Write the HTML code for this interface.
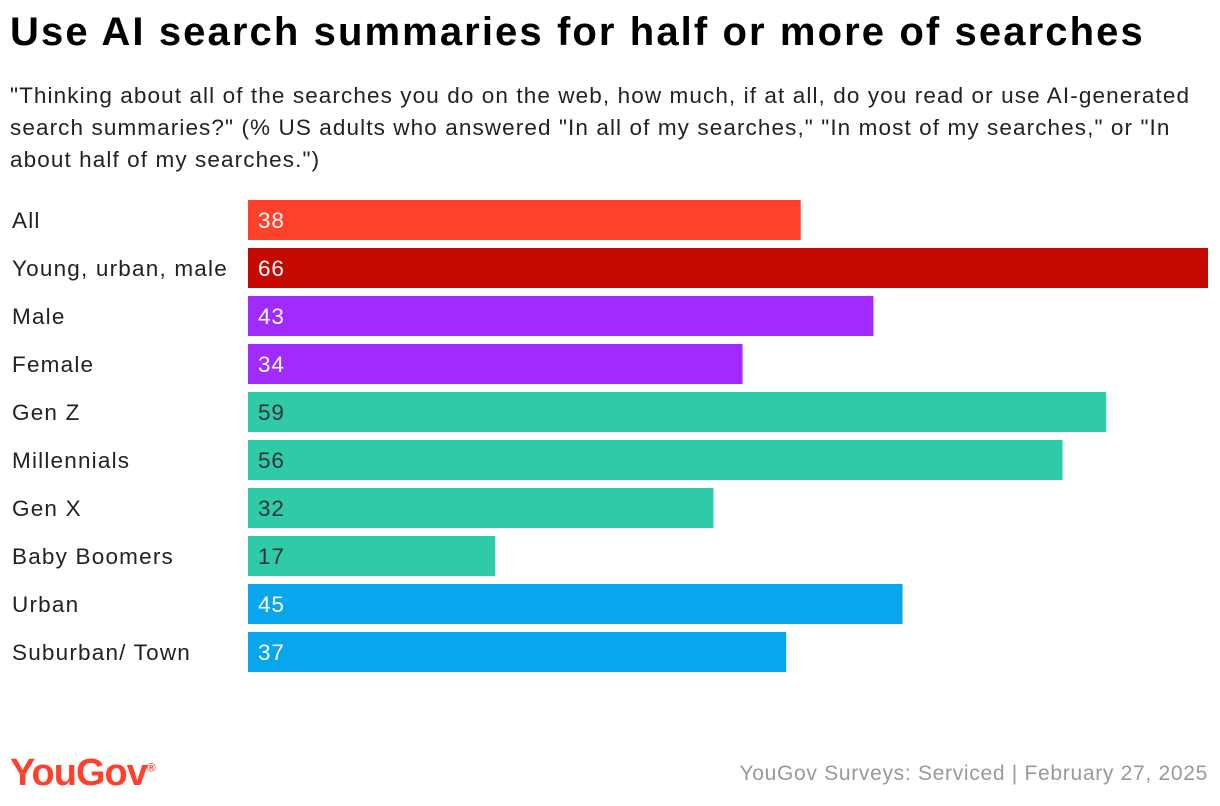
<!DOCTYPE html>
<html><head><meta charset="utf-8"><style>
body{margin:0;width:1220px;height:806px;background:#fff;font-family:"Liberation Sans",sans-serif;overflow:hidden;position:relative}
#title{position:absolute;left:10px;top:10px;font-size:40px;font-weight:bold;color:#000;letter-spacing:2.1px;white-space:nowrap}
#sub{position:absolute;left:10px;top:80px;width:1212px;font-size:22.5px;line-height:32px;color:#222;letter-spacing:1.1px}
#logo{position:absolute;left:10px;top:752px;font-size:38px;font-weight:bold;color:#ff412c;letter-spacing:-1px}
#src{position:absolute;right:12px;top:762px;font-size:21px;color:#999;letter-spacing:0.7px}
</style></head><body>
<div id="title">Use AI search summaries for half or more of searches</div>
<div id="sub">"Thinking about all of the searches you do on the web, how much, if at all, do you read or use AI-generated search summaries?" (% US adults who answered "In all of my searches," "In most of my searches," or "In about half of my searches.")</div>
<svg id="chart" width="1220" height="806" style="position:absolute;left:0;top:0"></svg>
<div id="logo">YouGov<sup style="font-size:12px">®</sup></div>
<div id="src">YouGov Surveys: Serviced | February 27, 2025</div>
<script>
const categories=["All","Young, urban, male","Male","Female","Gen Z","Millennials","Gen X","Baby Boomers","Urban","Suburban/ Town"];
const values=[38,66,43,34,59,56,32,17,45,37];
const colors=["#ff412c","#c50a00","#a12bff","#a12bff","#2fcaa7","#2fcaa7","#2fcaa7","#2fcaa7","#07a6ed","#07a6ed"];
const darkText=[false,false,false,false,true,true,true,true,false,false];
const svg=document.getElementById('chart');
const ns='http://www.w3.org/2000/svg';
const x0=248,x1=1208,maxV=66;
const xs=v=>x0+(x1-x0)*v/maxV;
const ys=i=>200+i*48;
categories.forEach((c,i)=>{
  const t=document.createElementNS(ns,'text');
  
  
  t.setAttribute('x',12);t.setAttribute('y',ys(i)+28);
  t.setAttribute('font-size','22.5');t.setAttribute('fill','#222');t.setAttribute('letter-spacing','1.2');
  t.textContent=c;svg.appendChild(t);
  const r=document.createElementNS(ns,'rect');
  
  
  r.setAttribute('x',x0);r.setAttribute('y',ys(i));
  r.setAttribute('width',xs(values[i])-x0);r.setAttribute('height',40);
  r.setAttribute('fill',colors[i]);svg.appendChild(r);
  const v=document.createElementNS(ns,'text');
  
  
  v.setAttribute('x',x0+10);v.setAttribute('y',ys(i)+28);
  v.setAttribute('font-size','22.5');v.setAttribute('fill',darkText[i]?'#333':'#fff');v.setAttribute('letter-spacing','0.8');
  v.textContent=values[i];svg.appendChild(v);
});
</script>
</body></html>
